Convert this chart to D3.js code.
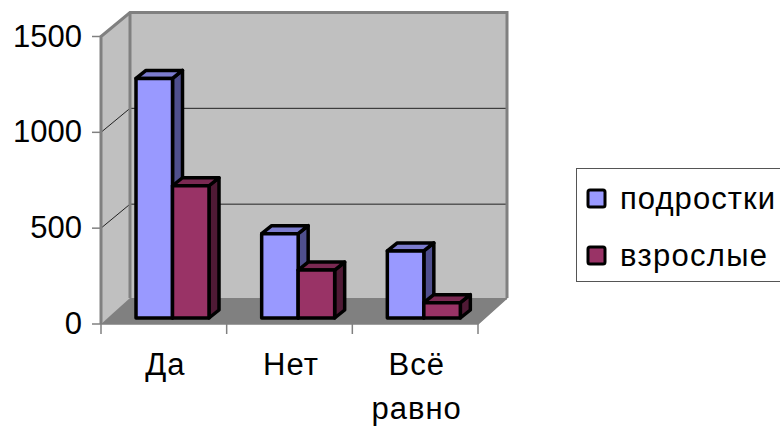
<!DOCTYPE html>
<html>
<head>
<meta charset="utf-8">
<script src="https://cdn.jsdelivr.net/npm/d3@7"></script>
<style>
  html, body { margin: 0; padding: 0; background: #fff; overflow: hidden; }
  text { font-family: "Liberation Sans", sans-serif; fill: #000; }
</style>
</head>
<body>
<svg id="chart" width="780" height="426"></svg>
<script>
const categories = [["Да"], ["Нет"], ["Всё", "равно"]];
const seriesNames = ["подростки", "взрослые"];
const teens = [1250, 440, 350];
const adults = [690, 250, 80];
const yTicks = [0, 500, 1000, 1500];

const colors = [
  {front: "#9999ff", top: "#7c7cce", side: "#4f4f8e"},
  {front: "#993366", top: "#7a2952", side: "#4f1a35"}
];

const svg = d3.select("#chart");

// front plane of the 3d box, the back wall is the same thing shifted by depth
const depth = {x: 29, y: -24};
const barDepth = {x: 10, y: -8};
const barShift = {x: 6, y: -6};

const x = d3.scaleBand().domain(d3.range(categories.length)).range([101, 478]);
const y = d3.scaleLinear().domain([0, 1500]).range([324, 36.5]);

const poly = (pts) => pts.map((p) => p.join(",")).join(" ");
const x0 = x.range()[0], x1 = x.range()[1];
const yb = y(0), yt = y(1500);

// walls and floor
svg.append("polygon")
  .attr("points", poly([[x0, yt], [x0 + depth.x, yt + depth.y], [x0 + depth.x, yb + depth.y], [x0, yb]]))
  .attr("fill", "#c0c0c0");
svg.append("rect")
  .attr("x", x0 + depth.x).attr("y", yt + depth.y)
  .attr("width", x1 - x0).attr("height", yb - yt)
  .attr("fill", "#c0c0c0");
svg.append("polygon")
  .attr("points", poly([[x0, yb], [x0 + depth.x, yb + depth.y - 2], [x1 + depth.x, yb + depth.y - 2], [x1, yb]]))
  .attr("fill", "#808080");

// gridlines
svg.selectAll(".grid")
  .data(yTicks.filter((d) => d > 0 && d < 1500))
  .join("polyline")
  .attr("class", "grid")
  .attr("fill", "none")
  .attr("stroke", "#222")
  .attr("stroke-width", 1)
  .attr("points", (d) => poly([[x0, y(d)], [x0 + depth.x, y(d) + depth.y], [x1 + depth.x, y(d) + depth.y]]));

// wall outlines
svg.append("polyline")
  .attr("fill", "none").attr("stroke", "#808080").attr("stroke-width", 3)
  .attr("points", poly([[x0, yb], [x0, yt], [x0 + depth.x, yt + depth.y], [x1 + depth.x, yt + depth.y], [x1 + depth.x, yb + depth.y - 2]]));
svg.append("line")
  .attr("stroke", "#808080").attr("stroke-width", 3)
  .attr("x1", x0 + depth.x).attr("x2", x0 + depth.x)
  .attr("y1", yt + depth.y).attr("y2", yb + depth.y - 2);
svg.append("polyline")
  .attr("fill", "none").attr("stroke", "#808080").attr("stroke-width", 1.5)
  .attr("points", poly([[x0, yb], [x1, yb], [x1 + depth.x, yb + depth.y - 2]]));

// axes ticks and labels
svg.selectAll(".ytick")
  .data(yTicks)
  .join("line")
  .attr("class", "ytick")
  .attr("stroke", "#808080").attr("stroke-width", 1.5)
  .attr("x1", x0 - 9).attr("x2", x0)
  .attr("y1", (d) => y(d)).attr("y2", (d) => y(d));
svg.selectAll(".ylabel")
  .data(yTicks)
  .join("text")
  .attr("class", "ylabel")
  .attr("x", 82)
  .attr("y", (d) => y(d) + 10)
  .attr("text-anchor", "end")
  .attr("font-size", 31)
  .text((d) => d);

svg.selectAll(".xtick")
  .data(d3.range(categories.length + 1))
  .join("line")
  .attr("class", "xtick")
  .attr("stroke", "#808080").attr("stroke-width", 1.5)
  .attr("x1", (i) => x0 + i * x.bandwidth()).attr("x2", (i) => x0 + i * x.bandwidth())
  .attr("y1", yb).attr("y2", yb + 10);

const xl = svg.selectAll(".xlabel")
  .data(categories)
  .join("text")
  .attr("class", "xlabel")
  .attr("text-anchor", "middle")
  .attr("letter-spacing", 1)
  .attr("font-size", 31);
xl.selectAll("tspan")
  .data((d, i) => d.map((t, j) => ({t, j, i})))
  .join("tspan")
  .attr("x", (d) => x(d.i) + x.bandwidth() / 2 + 1.5)
  .attr("y", (d) => 375 + d.j * 44)
  .text((d) => d.t);

// bars, back row order is left to right so the side faces overlap correctly
const inner = d3.scaleBand().domain([0, 1]).range([29, 102]);
const barData = [];
categories.forEach((c, i) => {
  [teens, adults].forEach((vals, s) => barData.push({i, s, v: vals[i]}));
});

const bars = svg.selectAll(".bar")
  .data(barData)
  .join("g")
  .attr("class", "bar")
  .attr("stroke", "#000")
  .attr("stroke-width", 3.5)
  .attr("stroke-linejoin", "round");

const bx = (d) => x(d.i) + barShift.x + inner(d.s);
const by = (d) => y(d.v) + barShift.y;
const bw = inner.bandwidth();
const base = yb + barShift.y;

bars.append("polygon")
  .attr("fill", (d) => colors[d.s].side)
  .attr("points", (d) => poly([
    [bx(d) + bw, by(d)],
    [bx(d) + bw + barDepth.x, by(d) + barDepth.y],
    [bx(d) + bw + barDepth.x, base + barDepth.y],
    [bx(d) + bw, base]
  ]));
bars.append("polygon")
  .attr("fill", (d) => colors[d.s].top)
  .attr("points", (d) => poly([
    [bx(d), by(d)],
    [bx(d) + barDepth.x, by(d) + barDepth.y],
    [bx(d) + bw + barDepth.x, by(d) + barDepth.y],
    [bx(d) + bw, by(d)]
  ]));
bars.append("rect")
  .attr("fill", (d) => colors[d.s].front)
  .attr("x", bx)
  .attr("y", by)
  .attr("width", bw)
  .attr("height", (d) => base - by(d));

// legend, the right border runs off the picture
svg.append("rect")
  .attr("x", 576.5).attr("y", 168.5)
  .attr("width", 220).attr("height", 113)
  .attr("fill", "#fff").attr("stroke", "#555").attr("stroke-width", 1);

const legend = svg.selectAll(".legend")
  .data(seriesNames)
  .join("g")
  .attr("class", "legend")
  .attr("transform", (d, i) => `translate(588,${190 + i * 57})`);
legend.append("rect")
  .attr("x", 0).attr("y", 0)
  .attr("width", 17).attr("height", 17)
  .attr("rx", 2)
  .attr("fill", (d, i) => colors[i].front)
  .attr("stroke", "#000").attr("stroke-width", 3);
legend.append("text")
  .attr("x", 32).attr("y", 19)
  .attr("font-size", 31)
  .attr("textLength", (d, i) => [155, 147][i])
  .attr("lengthAdjust", "spacing")
  .text((d) => d);
</script>
</body>
</html>
